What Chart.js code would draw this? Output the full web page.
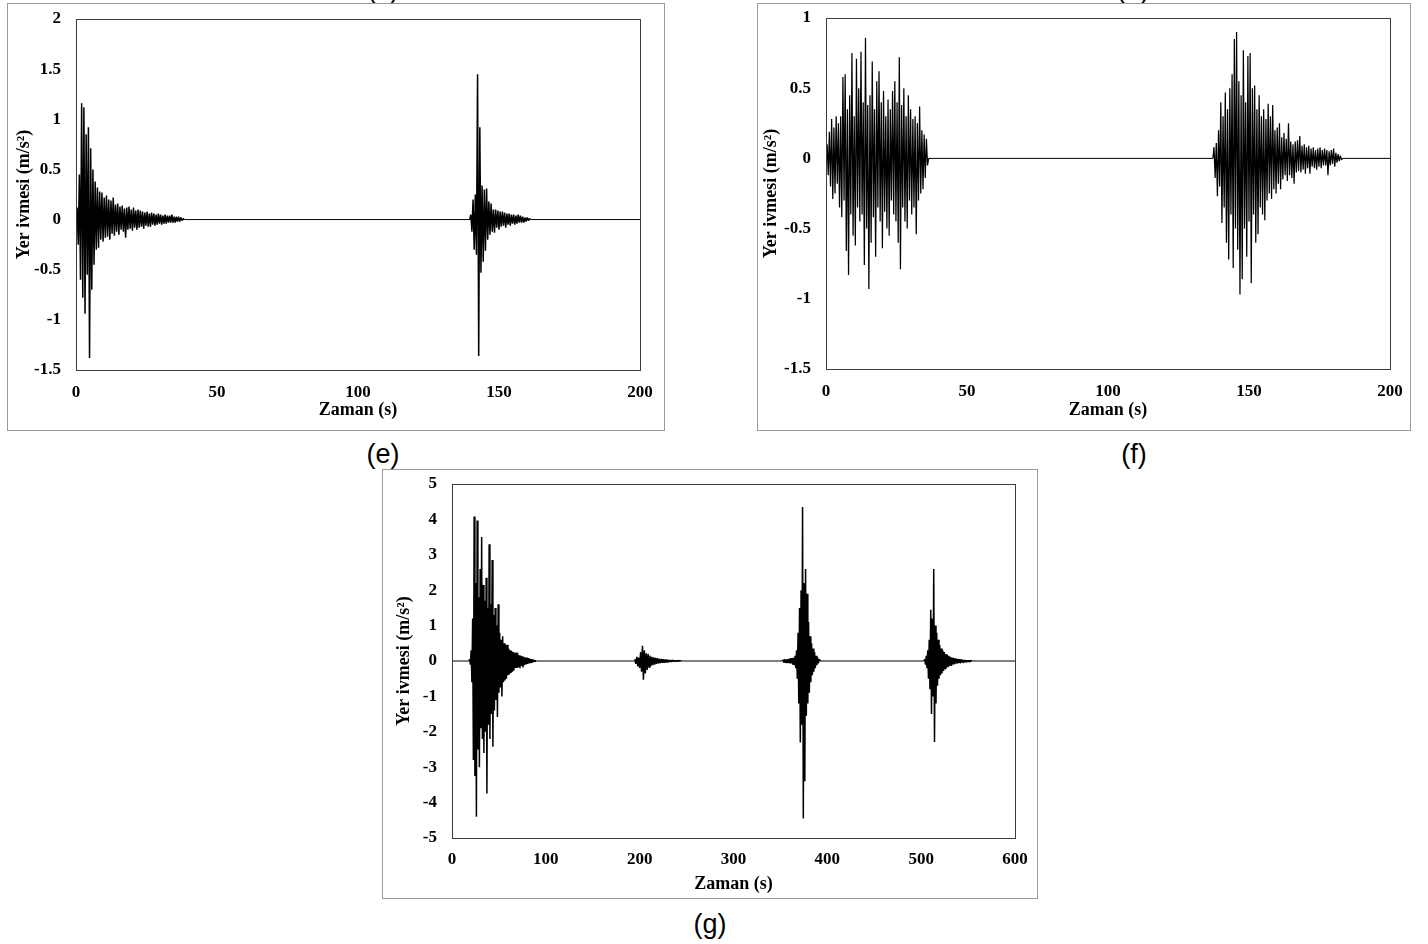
<!DOCTYPE html>
<html>
<head>
<meta charset="utf-8">
<script src="https://cdn.jsdelivr.net/npm/chart.js@4.4.1/dist/chart.umd.min.js"></script>
<style>
  body { margin: 0; background: #fff; width: 1428px; height: 944px; position: relative; overflow: hidden; }
  .frame { position: absolute; border: 1px solid #9a9a9a; background: #fff; }
  .frame canvas { display: block; }
  .tag { position: absolute; font-family: "Liberation Sans", Arial, sans-serif; font-size: 27px; color: #000; line-height: 1; transform: translateX(-50%); }
</style>
</head>
<body>
<div class="tag" style="left:383px; top:-24px">(c)</div>
<div class="tag" style="left:1133px; top:-24px">(d)</div>

<div class="frame" style="left:7px; top:3px;"><canvas id="chartE" width="656" height="426"></canvas></div>
<div class="frame" style="left:757px; top:3px;"><canvas id="chartF" width="652" height="426"></canvas></div>
<div class="frame" style="left:382px; top:469px;"><canvas id="chartG" width="654" height="428"></canvas></div>

<div class="tag" style="left:383px; top:441px">(e)</div>
<div class="tag" style="left:1134px; top:441px">(f)</div>
<div class="tag" style="left:710px; top:911px">(g)</div>

<script>
// (e) - hai sarsıntı, 0-200 s
const eTicksX = [0, 50, 100, 150, 200];
const eTicksY = [-1.5, -1, -0.5, 0, 0.5, 1, 1.5, 2];
const eStart1 = 0.0, eStep1 = 0.4;
const eWave1 = [
  0, 0.12, -0.25, 0.45, -0.6, 1.16, -0.78, 1.12, -0.94, 0.85,
  -0.55, 0.92, -1.38, 0.71, -0.7, 0.5, -0.45, 0.38, -0.3, 0.32,
  -0.28, 0.28, -0.2, 0.27, -0.22, 0.22, -0.18, 0.24, -0.17, 0.2,
  -0.2, 0.19, -0.14, 0.22, -0.16, 0.15, -0.12, 0.16, -0.15, 0.13,
  -0.1, 0.14, -0.12, 0.11, -0.18, 0.12, -0.1, 0.13, -0.09, 0.1,
  -0.11, 0.12, -0.08, 0.09, -0.1, 0.1, -0.08, 0.09, -0.07, 0.08,
  -0.09, 0.07, -0.06, 0.08, -0.07, 0.06, -0.07, 0.07, -0.05, 0.06,
  -0.06, 0.05, -0.05, 0.06, -0.04, 0.05, -0.05, 0.04, -0.04, 0.05,
  -0.04, 0.04, -0.03, 0.04, -0.03, 0.05, -0.03, 0.03, -0.03, 0.03,
  -0.02, 0.03, -0.02, 0.02, -0.01, 0.01, 0
];
const eStart2 = 139.6, eStep2 = 0.4;
const eWave2 = [
  0, 0.05, -0.12, 0.2, -0.3, 0.25, -0.35, 1.45, -1.36, 0.92,
  -0.53, 0.34, -0.42, 0.3, -0.31, 0.31, -0.2, 0.18, -0.15, 0.16,
  -0.12, 0.1, -0.13, 0.1, -0.08, 0.09, -0.1, 0.08, -0.07, 0.08,
  -0.06, 0.07, -0.08, 0.06, -0.05, 0.06, -0.06, 0.05, -0.04, 0.05,
  -0.05, 0.04, -0.04, 0.05, -0.03, 0.04, -0.03, 0.03, -0.03, 0.02,
  -0.02, 0.02, -0.01, 0.01, 0
];

// (f) - 0-200 s
const fTicksX = [0, 50, 100, 150, 200];
const fTicksY = [-1.5, -1, -0.5, 0, 0.5, 1];
const fStart1 = 0.0, fStep1 = 0.4;
const fWave1 = [
  0, 0.1, -0.12, 0.19, -0.2, 0.28, -0.29, 0.22, -0.25, 0.3,
  -0.18, 0.25, -0.35, 0.3, -0.42, 0.58, -0.3, 0.6, -0.66, 0.35,
  -0.83, 0.45, -0.4, 0.75, -0.55, 0.3, -0.62, 0.71, -0.35, 0.5,
  -0.45, 0.76, -0.4, 0.4, -0.76, 0.86, -0.5, 0.38, -0.93, 0.45,
  -0.6, 0.69, -0.42, 0.35, -0.7, 0.55, -0.35, 0.62, -0.45, 0.4,
  -0.64, 0.48, -0.38, 0.3, -0.5, 0.42, -0.55, 0.35, -0.3, 0.48,
  -0.4, 0.55, -0.45, 0.4, -0.6, 0.72, -0.79, 0.38, -0.35, 0.5,
  -0.45, 0.3, -0.5, 0.45, -0.3, 0.35, -0.4, 0.28, -0.35, 0.3,
  -0.54, 0.25, -0.3, 0.37, -0.25, 0.2, -0.22, 0.17, -0.14, 0.14,
  -0.05, 0
];
const fStart2 = 137.2, fStep2 = 0.4;
const fWave2 = [
  0, 0.08, -0.14, 0.11, -0.27, 0.2, -0.2, 0.4, -0.46, 0.3,
  -0.35, 0.47, -0.6, 0.35, -0.72, 0.5, -0.4, 0.6, -0.78, 0.85,
  -0.5, 0.9, -0.65, 0.55, -0.97, 0.45, -0.86, 0.77, -0.5, 0.4,
  -0.7, 0.73, -0.45, 0.75, -0.89, 0.5, -0.4, 0.52, -0.6, 0.35,
  -0.54, 0.45, -0.35, 0.3, -0.4, 0.35, -0.44, 0.28, -0.3, 0.39,
  -0.25, 0.3, -0.29, 0.38, -0.22, 0.2, -0.25, 0.22, -0.18, 0.25,
  -0.22, 0.15, -0.15, 0.18, -0.12, 0.14, -0.16, 0.25, -0.12, 0.12,
  -0.14, 0.1, -0.18, 0.12, -0.1, 0.13, -0.09, 0.16, -0.1, 0.09,
  -0.08, 0.1, -0.11, 0.08, -0.07, 0.09, -0.11, 0.07, -0.06, 0.08,
  -0.07, 0.06, -0.08, 0.07, -0.06, 0.08, -0.07, 0.06, -0.05, 0.07,
  -0.05, 0.06, -0.12, 0.05, -0.05, 0.06, -0.04, 0.07, -0.06, 0.04,
  -0.03, 0.03, -0.02, 0.02, -0.01, 0
];

// (g) - dört sarsıntı, 0-600 s
const gTicksX = [0, 100, 200, 300, 400, 500, 600];
const gTicksY = [-5, -4, -3, -2, -1, 0, 1, 2, 3, 4, 5];
const gStart1 = 18.0, gStep1 = 0.8;
const gWave1 = [
  0, 0.05, -0.1, 0.3, -0.6, 1.2, -2.8, 4.08, -3.25, 2.2,
  -4.4, 3.97, -2.5, 1.8, -3.0, 2.6, -1.9, 3.5, -2.2, 2.15,
  -2.6, 1.7, -2.0, 2.35, -3.74, 1.5, -1.8, 3.3, -2.2, 1.6,
  -1.5, 2.85, -2.42, 1.3, -1.4, 1.5, -1.1, 1.0, -1.58, 1.6,
  -0.9, 0.8, -0.75, 0.6, -1.0, 0.7, -0.6, 0.5, -0.55, 0.45,
  -0.5, 0.46, -0.4, 0.35, -0.38, 0.3, -0.34, 0.28, -0.3, 0.25,
  -0.27, 0.22, -0.2, 0.24, -0.2, 0.22, -0.18, 0.16, -0.2, 0.15,
  -0.14, 0.13, -0.18, 0.12, -0.12, 0.1, -0.1, 0.1, -0.08, 0.08,
  -0.07, 0.06, -0.06, 0.05, -0.05, 0.04, -0.03, 0.03, -0.02, 0.01,
  0
];
const gStart2 = 194, gStep2 = 1.0;
const gWave2 = [
  0, 0.05, -0.08, 0.12, -0.15, 0.1, -0.2, 0.25, -0.3, 0.43,
  -0.53, 0.3, -0.35, 0.22, -0.25, 0.2, -0.18, 0.15, -0.14, 0.12,
  -0.12, 0.1, -0.1, 0.09, -0.08, 0.08, -0.07, 0.06, -0.06, 0.06,
  -0.05, 0.05, -0.05, 0.04, -0.04, 0.04, -0.04, 0.03, -0.03, 0.03,
  -0.03, 0.03, -0.02, 0.02, -0.02, 0.02, -0.02, 0.02, -0.01, 0.01,
  0
];
const gStart3 = 352.0, gStep3 = 0.8;
const gWave3 = [
  0, 0.03, -0.04, 0.05, -0.05, 0.04, -0.06, 0.05, -0.05, 0.06,
  -0.07, 0.08, -0.07, 0.08, -0.1, 0.09, -0.12, 0.15, -0.2, 0.3,
  -0.5, 0.8, -1.2, 1.5, -2.3, 2.0, -1.8, 4.35, -4.45, 2.2,
  -3.4, 2.6, -1.55, 1.9, -1.2, 1.1, -0.9, 0.7, -0.6, 0.5,
  -0.4, 0.35, -0.3, 0.25, -0.2, 0.15, -0.12, 0.1, -0.07, 0.05,
  0
];
const gStart4 = 503.0, gStep4 = 0.8;
const gWave4 = [
  0, 0.05, -0.1, 0.15, -0.2, 0.3, -0.5, 0.6, -0.8, 1.45,
  -1.5, 1.2, -1.0, 2.6, -2.29, 1.0, -1.2, 0.8, -0.7, 0.6,
  -0.5, 0.45, -0.4, 0.35, -0.35, 0.3, -0.28, 0.25, -0.22, 0.2,
  -0.2, 0.18, -0.15, 0.15, -0.13, 0.12, -0.12, 0.1, -0.1, 0.09,
  -0.08, 0.08, -0.07, 0.07, -0.06, 0.06, -0.05, 0.05, -0.05, 0.05,
  -0.04, 0.04, -0.04, 0.03, -0.03, 0.03, -0.03, 0.02, -0.02, 0.02,
  -0.02, 0.02, -0.01, 0.01, 0
];

const X_TITLE = "Zaman (s)";
const Y_TITLE = "Yer ivmesi (m/s²)";
const SERIF = "'Liberation Serif', 'Times New Roman', serif";

// kayıt: sabit örnekleme aralığıyla (dt) okunan ivme değerleri
function buildTrace(bursts, xMax) {
  const pts = [{ x: 0, y: 0 }];
  bursts.forEach((b) => {
    b.values.forEach((v, i) => pts.push({ x: b.t0 + i * b.dt, y: v }));
  });
  pts.push({ x: xMax, y: 0 });
  return pts;
}

// plot alanının çerçevesi
const plotBox = {
  id: "plotBox",
  afterDatasetsDraw(chart) {
    const { ctx, chartArea: a } = chart;
    ctx.save();
    ctx.strokeStyle = "#3c3c3c";
    ctx.lineWidth = 1;
    ctx.strokeRect(Math.round(a.left) + 0.5, Math.round(a.top) + 0.5,
      Math.round(a.right - a.left), Math.round(a.bottom - a.top));
    ctx.restore();
  },
};

function makeChart(id, o) {
  const ctx = document.getElementById(id).getContext("2d");
  const tickFont = { family: SERIF, size: 17, weight: "bold" };
  const titleFont = { family: SERIF, size: 18, weight: "bold" };
  return new Chart(ctx, {
    type: "line",
    data: {
      datasets: [{
        data: o.points,
        borderColor: "#000",
        borderWidth: o.lineW,
        borderJoinStyle: "bevel",
        pointRadius: 0,
        tension: 0,
        fill: false,
        // sessiz bölümler ince çizgi
        segment: {
          borderWidth: (c) => (c.p0.parsed.y === 0 && c.p1.parsed.y === 0 ? 1 : o.lineW),
        },
      }],
    },
    options: {
      responsive: false,
      animation: false,
      devicePixelRatio: 1,
      parsing: false,
      layout: { padding: { top: o.padTop, right: o.padRight, left: 0, bottom: 0 } },
      plugins: { legend: { display: false }, tooltip: { enabled: false } },
      scales: {
        x: {
          type: "linear",
          min: o.ticksX[0],
          max: o.ticksX[o.ticksX.length - 1],
          afterBuildTicks: (s) => { s.ticks = o.ticksX.map((v) => ({ value: v })); },
          afterFit: (s) => { s.height = o.xHeight; },
          grid: { display: false, drawTicks: true, tickLength: o.xTickPad },
          border: { display: false },
          ticks: { color: "#000", padding: 0, maxRotation: 0, autoSkip: false,
            font: tickFont, callback: (v) => String(v) },
          title: { display: true, text: X_TITLE, color: "#000",
            padding: { top: 0, bottom: o.xTitlePad }, font: titleFont },
        },
        y: {
          type: "linear",
          min: o.ticksY[0],
          max: o.ticksY[o.ticksY.length - 1],
          afterBuildTicks: (s) => { s.ticks = o.ticksY.map((v) => ({ value: v })); },
          afterFit: (s) => { s.width = o.yWidth; },
          grid: { display: false, drawTicks: true, tickLength: 15 },
          border: { display: false },
          ticks: { color: "#000", padding: 0, autoSkip: false,
            font: tickFont, callback: (v) => String(v) },
          title: { display: true, text: Y_TITLE, color: "#000",
            padding: { top: o.yTitlePad, bottom: 0 }, font: titleFont },
        },
      },
    },
    plugins: [plotBox],
  });
}

makeChart("chartE", {
  points: buildTrace([
    { t0: eStart1, dt: eStep1, values: eWave1 },
    { t0: eStart2, dt: eStep2, values: eWave2 },
  ], 200),
  ticksX: eTicksX, ticksY: eTicksY, lineW: 1.5,
  padTop: 15, padRight: 24, yWidth: 68, xHeight: 60,
  xTickPad: 12, xTitlePad: 9, yTitlePad: 6,
});

makeChart("chartF", {
  points: buildTrace([
    { t0: fStart1, dt: fStep1, values: fWave1 },
    { t0: fStart2, dt: fStep2, values: fWave2 },
  ], 200),
  ticksX: fTicksX, ticksY: fTicksY, lineW: 1.25,
  padTop: 14, padRight: 20, yWidth: 68, xHeight: 61,
  xTickPad: 12, xTitlePad: 9, yTitlePad: 3,
});

makeChart("chartG", {
  points: buildTrace([
    { t0: gStart1, dt: gStep1, values: gWave1 },
    { t0: gStart2, dt: gStep2, values: gWave2 },
    { t0: gStart3, dt: gStep3, values: gWave3 },
    { t0: gStart4, dt: gStep4, values: gWave4 },
  ], 600),
  ticksX: gTicksX, ticksY: gTicksY, lineW: 1.5,
  padTop: 14, padRight: 22, yWidth: 69, xHeight: 60,
  xTickPad: 11, xTitlePad: 3, yTitlePad: 11,
});
</script>
</body>
</html>
